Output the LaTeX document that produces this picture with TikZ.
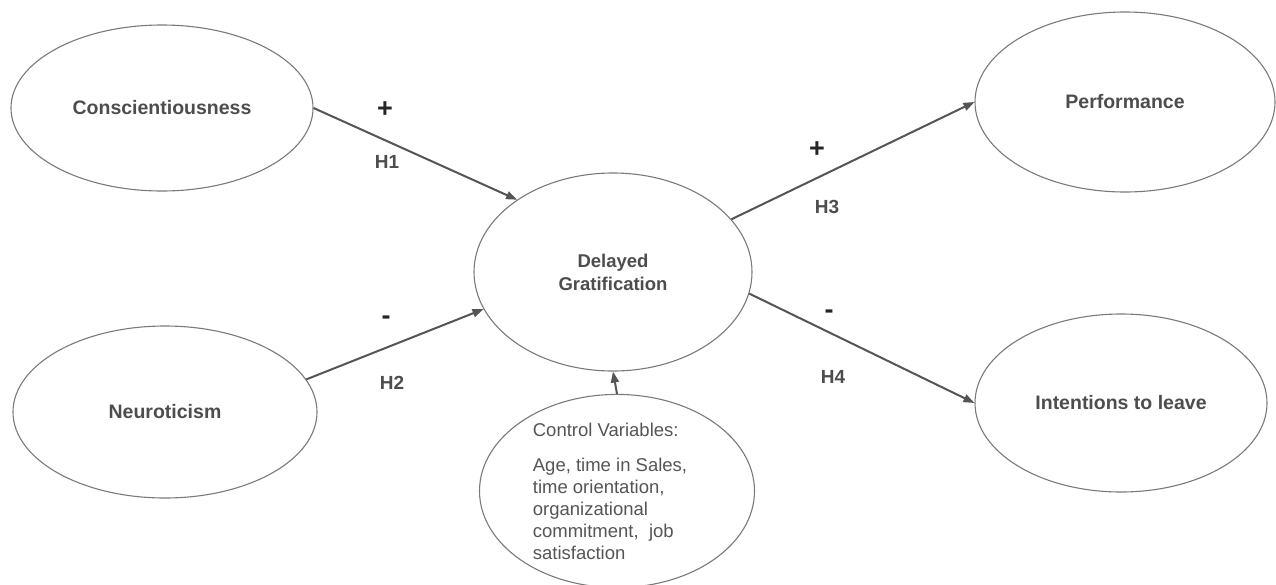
\documentclass[tikz,border=0pt]{standalone}
\usepackage{fontspec}
\setmainfont{Liberation Sans}
\usetikzlibrary{shapes.geometric,arrows.meta}
\definecolor{edgegray}{HTML}{7A7A7A}
\definecolor{arrgray}{HTML}{555555}
\definecolor{txtgray}{HTML}{4D4D4D}
\begin{document}
\begin{tikzpicture}[x=1pt,y=-1pt,
  oval/.style={ellipse, draw=edgegray, line width=1.1pt, inner sep=0pt, text=txtgray,
    font=\fontsize{19.5}{23}\selectfont\bfseries, align=center},
  link/.style={draw=arrgray, line width=2pt, -{Triangle[length=11pt,width=8pt]}},
  sign/.style={font=\fontsize{27}{28}\selectfont\bfseries, text=black!85, inner sep=0pt},
  hyp/.style={font=\fontsize{19}{22}\selectfont\bfseries, text=txtgray, inner sep=0pt}]
\useasboundingbox (0,0) rectangle (1276,584);
\fill[white] (0,0) rectangle (1276,584);
% ellipses
\node[oval, minimum width=302, minimum height=166] (consc) at (162,108) {Conscientiousness};
\node[oval, minimum width=304, minimum height=172] (neuro) at (165,412) {Neuroticism};
\node[oval, minimum width=278, minimum height=198, font=\fontsize{18.5}{23}\selectfont\bfseries] (dg) at (613,272) {Delayed\\Gratification};
\node[oval, minimum width=300, minimum height=180] (perf) at (1125,102) {Performance};
\node[oval, minimum width=292, minimum height=178] (leave) at (1121,403) {Intentions to leave};
\node[oval, minimum width=275, minimum height=176, align=left, text=arrgray,
  font=\fontsize{18.5}{22}\selectfont] (ctrl) at (617,491)
  {Control Variables:\\[13pt]Age, time in Sales,\rule{14pt}{0pt}\\time orientation,\\organizational\\commitment,\ \ job\\satisfaction};
% connectors
\draw[link] (consc.0) -- (dg.143.7);
\draw[link] (neuro.13.6) -- (dg.196.3);
\draw[link] (dg.24.8) -- (perf.180);
\draw[link] (dg.-9.7) -- (leave.180);
\draw[link] (ctrl.north) -- (dg.south);
% labels
\node[sign] (s1) at (385,110) {+};
\node[hyp] (h1) at (387,162) {H1};
\node[sign] (s2) at (386,320) {-};
\node[hyp] (h2) at (392,383) {H2};
\node[sign] (s3) at (817,150) {+};
\node[hyp] (h3) at (827,207) {H3};
\node[sign] (s4) at (829,314) {-};
\node[hyp] (h4) at (833,377) {H4};
\end{tikzpicture}
\end{document}
